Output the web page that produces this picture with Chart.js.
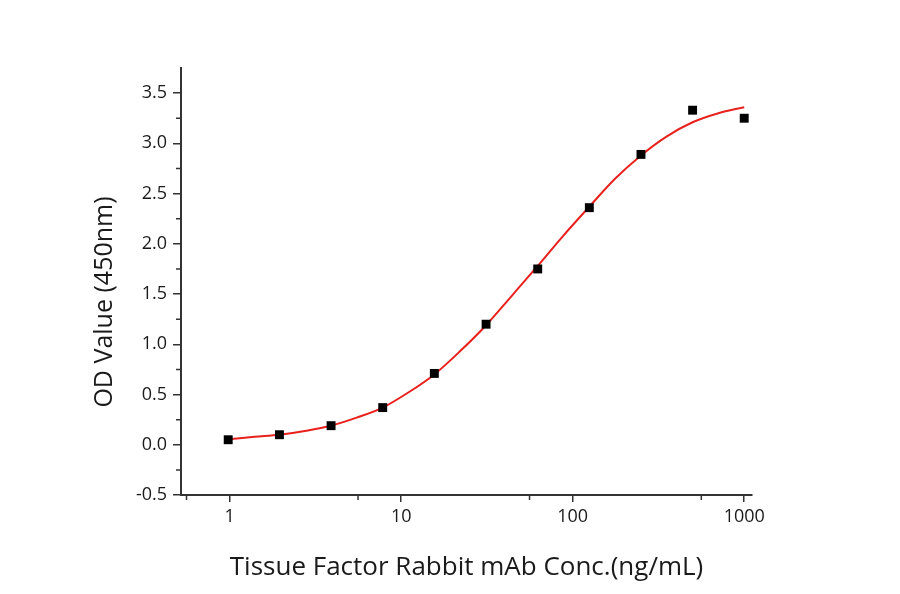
<!DOCTYPE html>
<html>
<head>
<meta charset="utf-8">
<script src="https://cdn.jsdelivr.net/npm/chart.js@4.4.1/dist/chart.umd.min.js"></script>
<style>
  html, body { margin: 0; padding: 0; background: #fff; }
  #wrap { width: 900px; height: 594px; }
</style>
</head>
<body>
<div id="wrap"><canvas id="odChart"></canvas></div>
<script>
// ---------------------------------------------------------------
//  Data
// ---------------------------------------------------------------
const concValues = [0.98, 1.95, 3.9, 7.8, 15.6, 31.25, 62.5, 125, 250, 500, 1000];
const odValues   = [0.05, 0.10, 0.19, 0.37, 0.71, 1.20, 1.75, 2.36, 2.89, 3.33, 3.25];

// fitted curve, sampled by eye along the red line
const fitConc = [0.98, 1.4, 1.95, 2.8, 3.9, 5.5, 7.8, 11, 15.6, 22, 31.25, 44, 62.5, 88, 125, 177, 250, 354, 500, 707, 1000];
const fitOd   = [0.055, 0.08, 0.10, 0.14, 0.19, 0.27, 0.37, 0.52, 0.70, 0.93, 1.19, 1.48, 1.78, 2.08, 2.37, 2.65, 2.88, 3.07, 3.21, 3.30, 3.36];

const xMajorTicks = [1, 10, 100, 1000];
const xMinorTicks = [0.56, 5.6, 56, 562];
const yMajorTicks = [-0.5, 0, 0.5, 1, 1.5, 2, 2.5, 3, 3.5];
const yMinorTicks = [-0.25, 0.25, 0.75, 1.25, 1.75, 2.25, 2.75, 3.25];

const yTitle = 'OD Value (450nm)';
const xTitle = 'Tissue Factor Rabbit mAb Conc.(ng/mL)';

const axisColor = '#333333';
const textColor = '#1a1a1a';
const fontFamily = '"Open Sans", "Noto Sans", sans-serif';

// ---------------------------------------------------------------
//  Minor tick marks (Origin style, outward) + y title
//  (the y title sits a bit below the middle of the axis, as in the original)
// ---------------------------------------------------------------
const axisExtrasPlugin = {
  id: 'axisExtras',
  afterDraw(chart) {
    const ctx = chart.ctx;
    const xs = chart.scales.x, ys = chart.scales.y;
    const area = chart.chartArea;
    ctx.save();
    ctx.strokeStyle = axisColor;
    ctx.lineWidth = 1.5;
    ctx.beginPath();
    for (const v of xMinorTicks) {
      const px = xs.getPixelForValue(v);
      ctx.moveTo(px, area.bottom);
      ctx.lineTo(px, area.bottom + 5);
    }
    for (const v of yMinorTicks) {
      const py = ys.getPixelForValue(v);
      ctx.moveTo(area.left, py);
      ctx.lineTo(area.left - 5, py);
    }
    ctx.stroke();

    ctx.translate(area.left - 76, area.bottom - 193);
    ctx.rotate(-Math.PI / 2);
    ctx.fillStyle = textColor;
    ctx.font = `25px ${fontFamily}`;
    ctx.textAlign = 'center';
    ctx.textBaseline = 'middle';
    ctx.fillText(yTitle, 0, 0);
    ctx.restore();
  }
};

// ---------------------------------------------------------------
//  Chart
// ---------------------------------------------------------------
const fitData = fitConc.map((c, i) => ({ x: c, y: fitOd[i] }));
const pointData = concValues.map((c, i) => ({ x: c, y: odValues[i] }));

new Chart(document.getElementById('odChart'), {
  type: 'scatter',
  data: {
    datasets: [
      {
        label: 'Fit', data: fitData, showLine: true,
        borderColor: '#e8211d', borderWidth: 2, pointRadius: 0,
        cubicInterpolationMode: 'monotone', order: 2
      },
      {
        label: 'OD', data: pointData, showLine: false,
        pointStyle: 'rect', pointRadius: 6.3, borderWidth: 0,
        backgroundColor: '#000000', borderColor: '#000000', order: 1
      }
    ]
  },
  plugins: [axisExtrasPlugin],
  options: {
    responsive: true, maintainAspectRatio: false, animation: false,
    devicePixelRatio: 1,
    layout: { padding: { left: 0, top: 68, right: 148, bottom: 0 } },
    plugins: { legend: { display: false }, tooltip: { enabled: false } },
    scales: {
      x: {
        type: 'logarithmic', min: 0.52, max: 1110,
        afterFit(scale) { scale.height = 99; },
        afterBuildTicks(scale) { scale.ticks = xMajorTicks.map(v => ({ value: v })); },
        border: { display: true, color: axisColor, width: 2 },
        grid: { drawOnChartArea: false, drawTicks: true, tickLength: 7, color: axisColor, lineWidth: 1.5 },
        ticks: {
          color: textColor, padding: 4, maxRotation: 0,
          font: { family: fontFamily, size: 18 },
          callback: v => String(v)
        },
        title: {
          display: true, text: xTitle,
          color: textColor, font: { family: fontFamily, size: 26 },
          padding: { top: 0, bottom: 11 }
        }
      },
      y: {
        type: 'linear', min: -0.5, max: 3.75,
        afterFit(scale) { scale.width = 181; },
        afterBuildTicks(scale) { scale.ticks = yMajorTicks.map(v => ({ value: v })); },
        border: { display: true, color: axisColor, width: 2 },
        grid: { drawOnChartArea: false, drawTicks: true, tickLength: 8, color: axisColor, lineWidth: 1.5 },
        ticks: {
          color: textColor, padding: 6,
          font: { family: fontFamily, size: 18 },
          callback: v => v.toFixed(1)
        },
        title: { display: false }
      }
    }
  }
});
</script>
</body>
</html>
